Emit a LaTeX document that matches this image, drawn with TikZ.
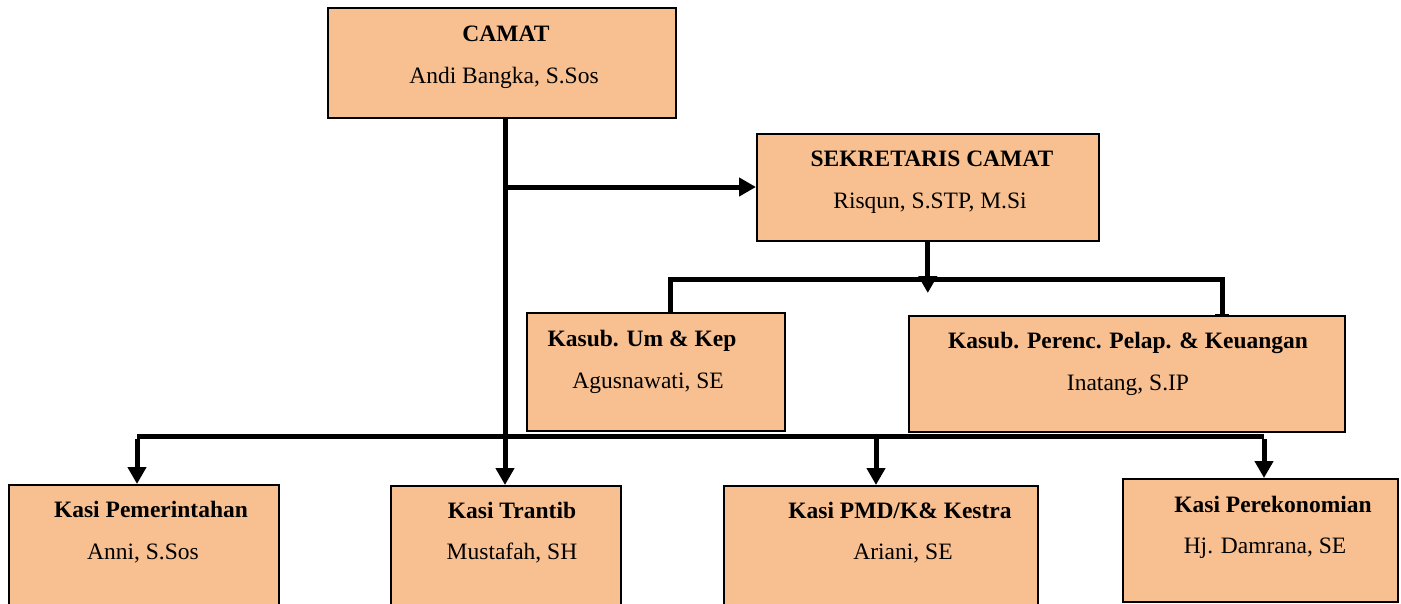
\documentclass[tikz,border=0pt]{standalone}
\usepackage{fontspec}
\setmainfont{Liberation Serif}
\usetikzlibrary{arrows.meta}
\definecolor{peach}{RGB}{248,192,144}
\tikzset{
  box/.style={draw=black, line width=1.6pt, fill=peach, anchor=north west, inner sep=0pt},
  ttl/.style={anchor=base, font=\fontsize{23.5}{28}\selectfont\bfseries, inner sep=0pt},
  nm/.style={anchor=base, font=\fontsize{23.5}{28}\selectfont, inner sep=0pt},
  conn/.style={line width=5pt, draw=black},
  arr/.style={conn, -{Triangle[length=17pt,width=18pt]}},
}
\begin{document}
\begin{tikzpicture}[x=1pt,y=-1pt]
\useasboundingbox (0,0) rectangle (1401,603);
\clip (0,0) rectangle (1401,603);
% boxes
\node[box, minimum width=348pt, minimum height=110pt] (camat) at (327,7) {};
\node[box, minimum width=342pt, minimum height=107pt] (sek) at (756,133) {};
\node[box, minimum width=258pt, minimum height=118pt] (um) at (526,312) {};
\node[box, minimum width=436pt, minimum height=116pt] (per) at (908,315) {};
\node[box, minimum width=270pt, minimum height=140pt] (pem) at (8,484) {};
\node[box, minimum width=230pt, minimum height=140pt] (tra) at (390,485) {};
\node[box, minimum width=314pt, minimum height=140pt] (pmd) at (723,485) {};
\node[box, minimum width=275pt, minimum height=123pt] (eko) at (1122,478) {};
% texts
\node[ttl] (t1) at (506,41) {CAMAT};
\node[nm] (n1) at (504,83) {Andi Bangka, S.Sos};
\node[ttl] (t2) at (932,166) {SEKRETARIS CAMAT};
\node[nm] (n2) at (930,208) {Risqun, S.STP, M.Si};
\node[ttl] (t3) at (642,346) {Kasub. Um \& Kep};
\node[nm] (n3) at (648,388) {Agusnawati, SE};
\node[ttl] (t4) at (1128,348) {Kasub. Perenc. Pelap. \& Keuangan};
\node[nm] (n4) at (1128,390) {Inatang, S.IP};
\node[ttl] (t5) at (151,517) {Kasi Pemerintahan};
\node[nm] (n5) at (143,559) {Anni, S.Sos};
\node[ttl] (t6) at (512,518) {Kasi Trantib};
\node[nm] (n6) at (512,559) {Mustafah, SH};
\node[ttl] (t7) at (900,518) {Kasi PMD/K\& Kestra};
\node[nm] (n7) at (903,559) {Ariani, SE};
\node[ttl] (t8) at (1273,512) {Kasi Perekonomian};
\node[nm] (n8) at (1265,553) {Hj. Damrana, SE};
% connector points
\coordinate (trunk) at (505,117);
\coordinate (sbr) at (505,187);
\coordinate (sdown) at (927,293);
\coordinate (hl) at (670,279);
\coordinate (hr) at (1222,279);
\coordinate (bl) at (137,436);
\coordinate (br) at (1264,436);
\coordinate (bp) at (876,436);
% connectors
\draw[arr] (trunk) -- (trunk |- tra.north);
\draw[arr] (sbr) -- (sek.west |- sbr);
\draw[arr] (sek.south) -- (sek.south |- sdown);
\draw[conn] (um.north -| hl) |- (hr) -- (per.north -| hr);
\draw[line width=2pt] ([xshift=-7pt]per.north -| hr) -- ([xshift=7pt]per.north -| hr);
\draw[conn] (bl) -- (br);
\draw[arr] ([yshift=-2.5pt]bl) -- (pem.north -| bl);
\draw[arr] (bp) -- (pmd.north -| bp);
\draw[arr] ([yshift=-2.5pt]br) -- (eko.north -| br);
\end{tikzpicture}
\end{document}
